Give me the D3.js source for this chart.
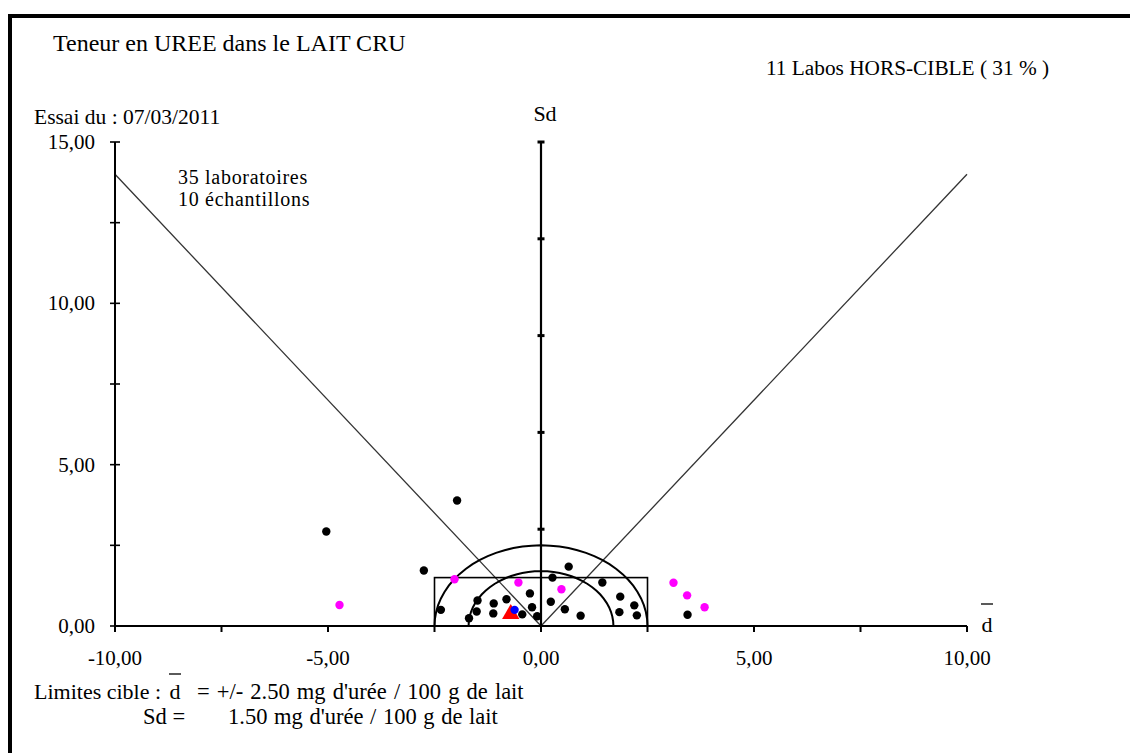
<!DOCTYPE html>
<html>
<head>
<meta charset="utf-8">
<script src="https://cdn.jsdelivr.net/npm/d3@7"></script>
<style>
  body { margin: 0; background: #fff; }
  text { font-family: "Liberation Serif", "Times New Roman", serif; fill: #000; }
</style>
</head>
<body>
<div id="chart"></div>
<script>
// Labs: [mean deviation d, standard deviation Sd]
const blackLabs = [
  [-1.97, 3.89], [-5.04, 2.93], [-2.75, 1.72], [-2.35, 0.50], [-1.69, 0.24],
  [-1.51, 0.45], [-1.49, 0.79], [-1.12, 0.39], [-1.11, 0.70], [-0.81, 0.83],
  [-0.44, 0.36], [-0.26, 1.01], [-0.21, 0.58], [-0.09, 0.30], [0.23, 0.75],
  [0.27, 1.50], [0.65, 1.84], [0.56, 0.52], [0.93, 0.32], [1.44, 1.35],
  [1.86, 0.91], [1.84, 0.43], [2.19, 0.64], [2.25, 0.33], [3.44, 0.35],
];
const magentaLabs = [
  [-4.73, 0.65], [-2.03, 1.45], [-0.53, 1.35], [0.48, 1.14],
  [3.11, 1.34], [3.43, 0.95], [3.84, 0.58],
];
const blueLabs = [[-0.62, 0.50]];
const meanPoint = [[-0.71, 0.37]];

const xTicks = [-10, -7.5, -5, -2.5, 0, 2.5, 5, 7.5, 10];
const xTickLabels = [-10, -5, 0, 5, 10];
const yTicks = [0, 2.5, 5, 7.5, 10, 12.5, 15];
const yTickLabels = [0, 5, 10, 15];
const sdTicks = [3, 6, 9, 12, 15];

const limitD = 2.5;
const limitSd = 1.5;
const outerRadius = 2.5;
const innerRadius = 1.7;
const diagonalTop = 14;

const width = 1130, height = 753;
const x = d3.scaleLinear().domain([-10, 10]).range([115, 967]);
const y = d3.scaleLinear().domain([0, 15]).range([626, 142]);
const fmt = (v) => v.toFixed(2).replace(".", ",");

const svg = d3.select("#chart").append("svg").attr("width", width).attr("height", height);

// outer frame
svg.append("rect")
  .attr("x", 10).attr("y", 16).attr("width", 1140).attr("height", 760)
  .attr("fill", "none").attr("stroke", "#000").attr("stroke-width", 4);

// diagonals from origin
[-10, 10].forEach((end) => {
  svg.append("line")
    .attr("x1", x(0)).attr("y1", y(0)).attr("x2", x(end)).attr("y2", y(diagonalTop))
    .attr("stroke", "#333").attr("stroke-width", 1.3);
});

// target rectangle
svg.append("rect")
  .attr("x", x(-limitD)).attr("y", y(limitSd))
  .attr("width", x(limitD) - x(-limitD)).attr("height", y(0) - y(limitSd))
  .attr("fill", "none").attr("stroke", "#000").attr("stroke-width", 1.6);

// half circles
const arc = (r) => d3.line().x((a) => x(r * Math.cos(a))).y((a) => y(r * Math.sin(a)))(
  d3.range(0, 37).map((i) => (Math.PI * i) / 36)
);
[outerRadius, innerRadius].forEach((r) => {
  svg.append("path").attr("d", arc(r))
    .attr("fill", "none").attr("stroke", "#000").attr("stroke-width", 2);
});

// x axis
svg.append("line")
  .attr("x1", x(-10)).attr("x2", x(10)).attr("y1", y(0)).attr("y2", y(0))
  .attr("stroke", "#000").attr("stroke-width", 2);
svg.selectAll(".xtick").data(xTicks).join("line")
  .attr("x1", (d) => x(d)).attr("x2", (d) => x(d))
  .attr("y1", y(0)).attr("y2", y(0) + 6)
  .attr("stroke", "#000").attr("stroke-width", 2);
svg.selectAll(".xlabel").data(xTickLabels).join("text")
  .attr("x", (d) => x(d)).attr("y", y(0) + 39)
  .attr("text-anchor", "middle").attr("font-size", 21)
  .text(fmt);

// y axis
svg.append("line")
  .attr("x1", x(-10)).attr("x2", x(-10)).attr("y1", y(0)).attr("y2", y(15))
  .attr("stroke", "#000").attr("stroke-width", 2);
svg.selectAll(".ytick").data(yTicks).join("line")
  .attr("x1", x(-10) - 5).attr("x2", x(-10) + 5)
  .attr("y1", (d) => y(d)).attr("y2", (d) => y(d))
  .attr("stroke", "#000").attr("stroke-width", 1.6);
svg.selectAll(".ylabel").data(yTickLabels).join("text")
  .attr("x", 95).attr("y", (d) => y(d) + 7)
  .attr("text-anchor", "end").attr("font-size", 21)
  .text(fmt);

// central Sd axis
svg.append("line")
  .attr("x1", x(0)).attr("x2", x(0)).attr("y1", y(0)).attr("y2", y(15))
  .attr("stroke", "#000").attr("stroke-width", 2.2);
svg.selectAll(".sdtick").data(sdTicks).join("line")
  .attr("x1", x(0) - 3.5).attr("x2", x(0) + 3.5)
  .attr("y1", (d) => y(d)).attr("y2", (d) => y(d))
  .attr("stroke", "#000").attr("stroke-width", 3);

// points
const drawDots = (data, color) => {
  svg.append("g").selectAll("circle").data(data).join("circle")
    .attr("cx", (d) => x(d[0])).attr("cy", (d) => y(d[1]))
    .attr("r", 4.2).attr("fill", color);
};
drawDots(blackLabs, "#000");
drawDots(magentaLabs, "#ff00ff");
svg.append("g").selectAll("path").data(meanPoint).join("path")
  .attr("transform", (d) => `translate(${x(d[0])},${y(d[1])})`)
  .attr("d", d3.symbol(d3.symbolTriangle, 130))
  .attr("fill", "#ff0000");
drawDots(blueLabs, "#0000ff");

// texts
const label = (tx, ty, str, size, anchor = "start") =>
  svg.append("text").attr("x", tx).attr("y", ty).attr("font-size", size)
    .attr("text-anchor", anchor).text(str);

label(53, 51, "Teneur en UREE dans le LAIT CRU", 24);
label(766, 75, "11 Labos HORS-CIBLE ( 31 % )", 21.3);
label(34, 124, "Essai du : 07/03/2011", 21.5);
label(545, 121, "Sd", 22, "middle");
label(178, 184, "35 laboratoires", 20).attr("letter-spacing", 0.7);
label(178, 206, "10 échantillons", 20).attr("letter-spacing", 0.7);

// d-bar axis title
label(987, 632, "d", 22, "middle");
svg.append("line").attr("x1", 981).attr("x2", 993).attr("y1", 604).attr("y2", 604)
  .attr("stroke", "#000").attr("stroke-width", 1.3);

// target limits
label(34, 699, "Limites cible : ", 22);
label(175, 699, "d", 22, "middle");
svg.append("line").attr("x1", 169).attr("x2", 181).attr("y1", 674).attr("y2", 674)
  .attr("stroke", "#000").attr("stroke-width", 1.3);
label(197, 699, `= +/- ${limitD.toFixed(2)} mg d'urée / 100 g de lait`, 22.5).attr("word-spacing", 1.5);
label(143, 724, "Sd =", 22.5);
label(228, 724, `${limitSd.toFixed(2)} mg d'urée / 100 g de lait`, 22.5).attr("word-spacing", 1);
</script>
</body>
</html>
